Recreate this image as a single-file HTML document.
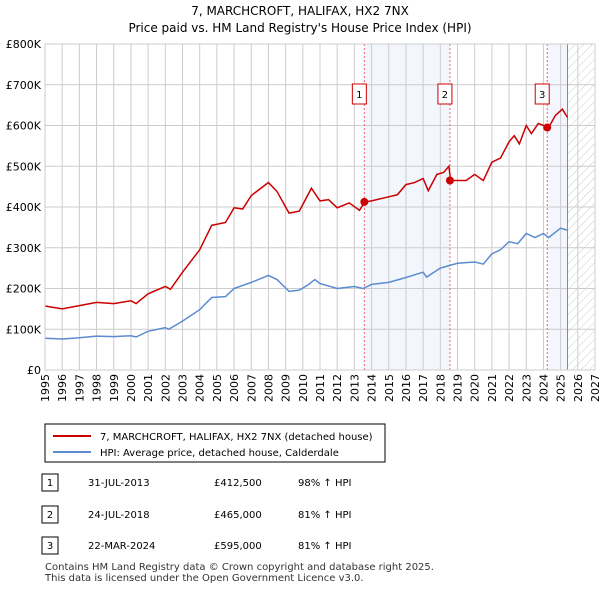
<!DOCTYPE html>
<html><head><meta charset="utf-8"><style>
body{margin:0;background:#fff;font-family:"Liberation Sans","DejaVu Sans",sans-serif;}
svg text{font-family:"DejaVu Sans","Liberation Sans",sans-serif;}
</style></head><body>
<svg id="c" width="600" height="590" viewBox="0 0 600 590" xmlns="http://www.w3.org/2000/svg">
<defs><pattern id="hatch" width="6" height="6" patternUnits="userSpaceOnUse" patternTransform="rotate(45)"><line x1="0" y1="0" x2="0" y2="6" stroke="#ccc" stroke-width="1"/></pattern></defs>
<text x="300" y="15" text-anchor="middle" font-size="12">7, MARCHCROFT, HALIFAX, HX2 7NX</text>
<text x="300" y="32" text-anchor="middle" font-size="12">Price paid vs. HM Land Registry's House Price Index (HPI)</text>
<g id="plot"></g>
<rect x="45" y="424" width="340" height="38" fill="#fff" stroke="#000" stroke-width="1"/>
<line x1="53" y1="436" x2="91" y2="436" stroke="#cc0000" stroke-width="2"/>
<text x="100" y="440" font-size="10">7, MARCHCROFT, HALIFAX, HX2 7NX (detached house)</text>
<line x1="53" y1="452" x2="91" y2="452" stroke="#5b8bd0" stroke-width="2"/>
<text x="100" y="456" font-size="10">HPI: Average price, detached house, Calderdale</text>
<g font-size="10">
<rect x="42" y="474" width="16" height="17" fill="#fff" stroke="#000"/><text x="50" y="486" text-anchor="middle">1</text>
<text x="88" y="486">31-JUL-2013</text><text x="214" y="486">£412,500</text><text x="298" y="486">98% ↑ HPI</text>
<rect x="42" y="506" width="16" height="17" fill="#fff" stroke="#000"/><text x="50" y="518" text-anchor="middle">2</text>
<text x="88" y="518">24-JUL-2018</text><text x="214" y="518">£465,000</text><text x="298" y="518">81% ↑ HPI</text>
<rect x="42" y="537" width="16" height="17" fill="#fff" stroke="#000"/><text x="50" y="549" text-anchor="middle">3</text>
<text x="88" y="549">22-MAR-2024</text><text x="214" y="549">£595,000</text><text x="298" y="549">81% ↑ HPI</text>
</g>
<text x="45" y="570" font-size="10" fill="#333">Contains HM Land Registry data © Crown copyright and database right 2025.</text>
<text x="45" y="581" font-size="10" fill="#333">This data is licensed under the Open Government Licence v3.0.</text>
</svg>
<script>
const hpiYears=[1995,1996,1997,1998,1999,2000,2000.3,2001,2002,2002.2,2003,2004,2004.7,2005.5,2006,2007,2008,2008.5,2009.2,2009.8,2010.3,2010.7,2011,2012,2013,2013.5,2014,2015,2016,2017,2017.2,2018,2019,2020,2020.5,2021,2021.5,2022,2022.5,2023,2023.5,2024,2024.3,2025,2025.4];
const hpiValues=[78,76,79,83,82,84,81,95,104,100,120,148,178,180,200,215,232,222,193,196,209,222,212,200,205,200,210,215,227,240,228,250,262,265,260,285,295,315,310,335,325,335,325,348,343];
const priceYears=[1995,1996,1997,1998,1999,2000,2000.3,2001,2002,2002.3,2003,2004,2004.7,2005.5,2006,2006.5,2007,2008,2008.5,2009.2,2009.8,2010.5,2011,2011.5,2012,2012.7,2013.3,2013.6,2014,2015,2015.5,2016,2016.5,2017,2017.3,2017.8,2018.2,2018.5,2018.6,2019.5,2020,2020.5,2021,2021.5,2022,2022.3,2022.6,2023,2023.3,2023.7,2024,2024.3,2024.7,2025.1,2025.4];
const priceValues=[157,150,158,166,163,170,163,187,205,198,240,295,355,362,398,395,428,460,438,385,390,446,415,418,398,410,392,412,415,425,430,455,460,470,440,480,485,500,465,465,480,465,510,520,560,575,555,600,580,605,600,595,625,640,620];
const saleYears=[2013.58,2018.56,2024.22];
const saleValues=[412.5,465,595];
const saleLabels=["1","2","3"];
const yTicks=[0,100,200,300,400,500,600,700,800];
const yTickLabels=["£0","£100K","£200K","£300K","£400K","£500K","£600K","£700K","£800K"];
const xTicks=[];for(let y=1995;y<=2027;y++)xTicks.push(y);
const X0=45,X1=595,Y0=370,Y1=44;
const xs=y=>X0+(y-1995)/32*(X1-X0);
const ys=v=>Y0-v/800*(Y0-Y1);
const NS="http://www.w3.org/2000/svg";
const g=document.getElementById('plot');
function mk(t,a){const e=document.createElementNS(NS,t);for(const k in a)e.setAttribute(k,a[k]);g.appendChild(e);return e;}
const dataEnd=hpiYears[hpiYears.length-1];
let r=mk('rect',{x:xs(saleYears[0]),y:Y1,width:xs(saleYears[1])-xs(saleYears[0]),height:Y0-Y1,fill:'#eef2fc',opacity:0.7});


r=mk('rect',{x:xs(saleYears[2]),y:Y1,width:xs(dataEnd)-xs(saleYears[2]),height:Y0-Y1,fill:'#eef2fc',opacity:0.7});


r=mk('rect',{x:xs(dataEnd),y:Y1,width:X1-xs(dataEnd),height:Y0-Y1,fill:'url(#hatch)'});


xTicks.forEach(y=>{const l=mk('line',{x1:xs(y),x2:xs(y),y1:Y1,y2:Y0,stroke:'#ccc','stroke-width':1});


const t=mk('text',{x:0,y:0,'font-size':11,'text-anchor':'end',transform:`translate(${xs(y)+4},${Y0+4}) rotate(-90)`});t.textContent=y;

});
yTicks.forEach((v,i)=>{const l=mk('line',{x1:X0,x2:X1,y1:ys(v),y2:ys(v),stroke:'#ccc','stroke-width':1});


const t=mk('text',{x:X0-4,y:ys(v)+4,'font-size':11,'text-anchor':'end'});t.textContent=yTickLabels[i];

});
r=mk('line',{x1:xs(dataEnd),x2:xs(dataEnd),y1:Y1,y2:Y0,stroke:'#889',"stroke-width":1});


saleYears.forEach((y,i)=>{const l=mk('line',{x1:xs(y),x2:xs(y),y1:Y1,y2:Y0,stroke:'#e66','stroke-width':1,'stroke-dasharray':'2,2'});


const b=mk('rect',{x:xs(y)-12,y:84,width:14,height:20,fill:'#fff',stroke:'#cc0000'});


const t=mk('text',{x:xs(y)-5,y:98,'font-size':10,'text-anchor':'middle'});t.textContent=saleLabels[i];

});
const hp=mk('polyline',{points:hpiYears.map((y,i)=>xs(y)+','+ys(hpiValues[i])).join(' '),fill:'none',stroke:'#5b8bd0','stroke-width':1.5});


const pp=mk('polyline',{points:priceYears.map((y,i)=>xs(y)+','+ys(priceValues[i])).join(' '),fill:'none',stroke:'#cc0000','stroke-width':1.5});


saleYears.forEach((y,i)=>{const c=mk('circle',{cx:xs(y),cy:ys(saleValues[i]),r:4,fill:'#cc0000'});

});
r=mk('rect',{x:X0,y:Y1,width:X1-X0,height:Y0-Y1,fill:'none',stroke:'#ccc'});


</script>
</body></html>
